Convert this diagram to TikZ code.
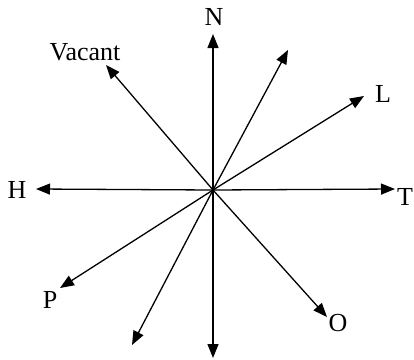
\documentclass[tikz,border=0pt]{standalone}
\usepackage{fontspec}
\setmainfont{Liberation Serif}
\usetikzlibrary{arrows.meta}
\begin{document}
\begin{tikzpicture}[x=1pt,y=-1pt,
  arr/.style={line width=1.3pt,-{Triangle[length=14pt,width=11pt]}},
  lbl/.style={inner sep=0pt,font=\fontsize{26}{26}\selectfont}]
\useasboundingbox (0,0) rectangle (414,359);
\coordinate (c) at (213,190);
\coordinate (n) at (213,34);
\coordinate (ne) at (288,50);
\coordinate (l) at (364,96);
\coordinate (t) at (395,189);
\coordinate (h) at (36,189);
\coordinate (v) at (106,65);
\coordinate (p) at (60,288);
\coordinate (sw) at (132,345);
\coordinate (s) at (213,358);
\coordinate (o) at (327,317);
\foreach \e in {n,ne,l,t,h,v,p,sw,s,o} \draw[arr] (c) -- (\e);
\node[lbl] (nl) at (214,17) {N};
\node[lbl] (ll) at (383,94) {L};
\node[lbl] (tl) at (405,197) {T};
\node[lbl] (hl) at (17,190) {H};
\node[lbl] (vl) at (85,52) {Vacant};
\node[lbl] (pl) at (50,300) {P};
\node[lbl] (ol) at (338,323) {O};
\end{tikzpicture}
\end{document}
